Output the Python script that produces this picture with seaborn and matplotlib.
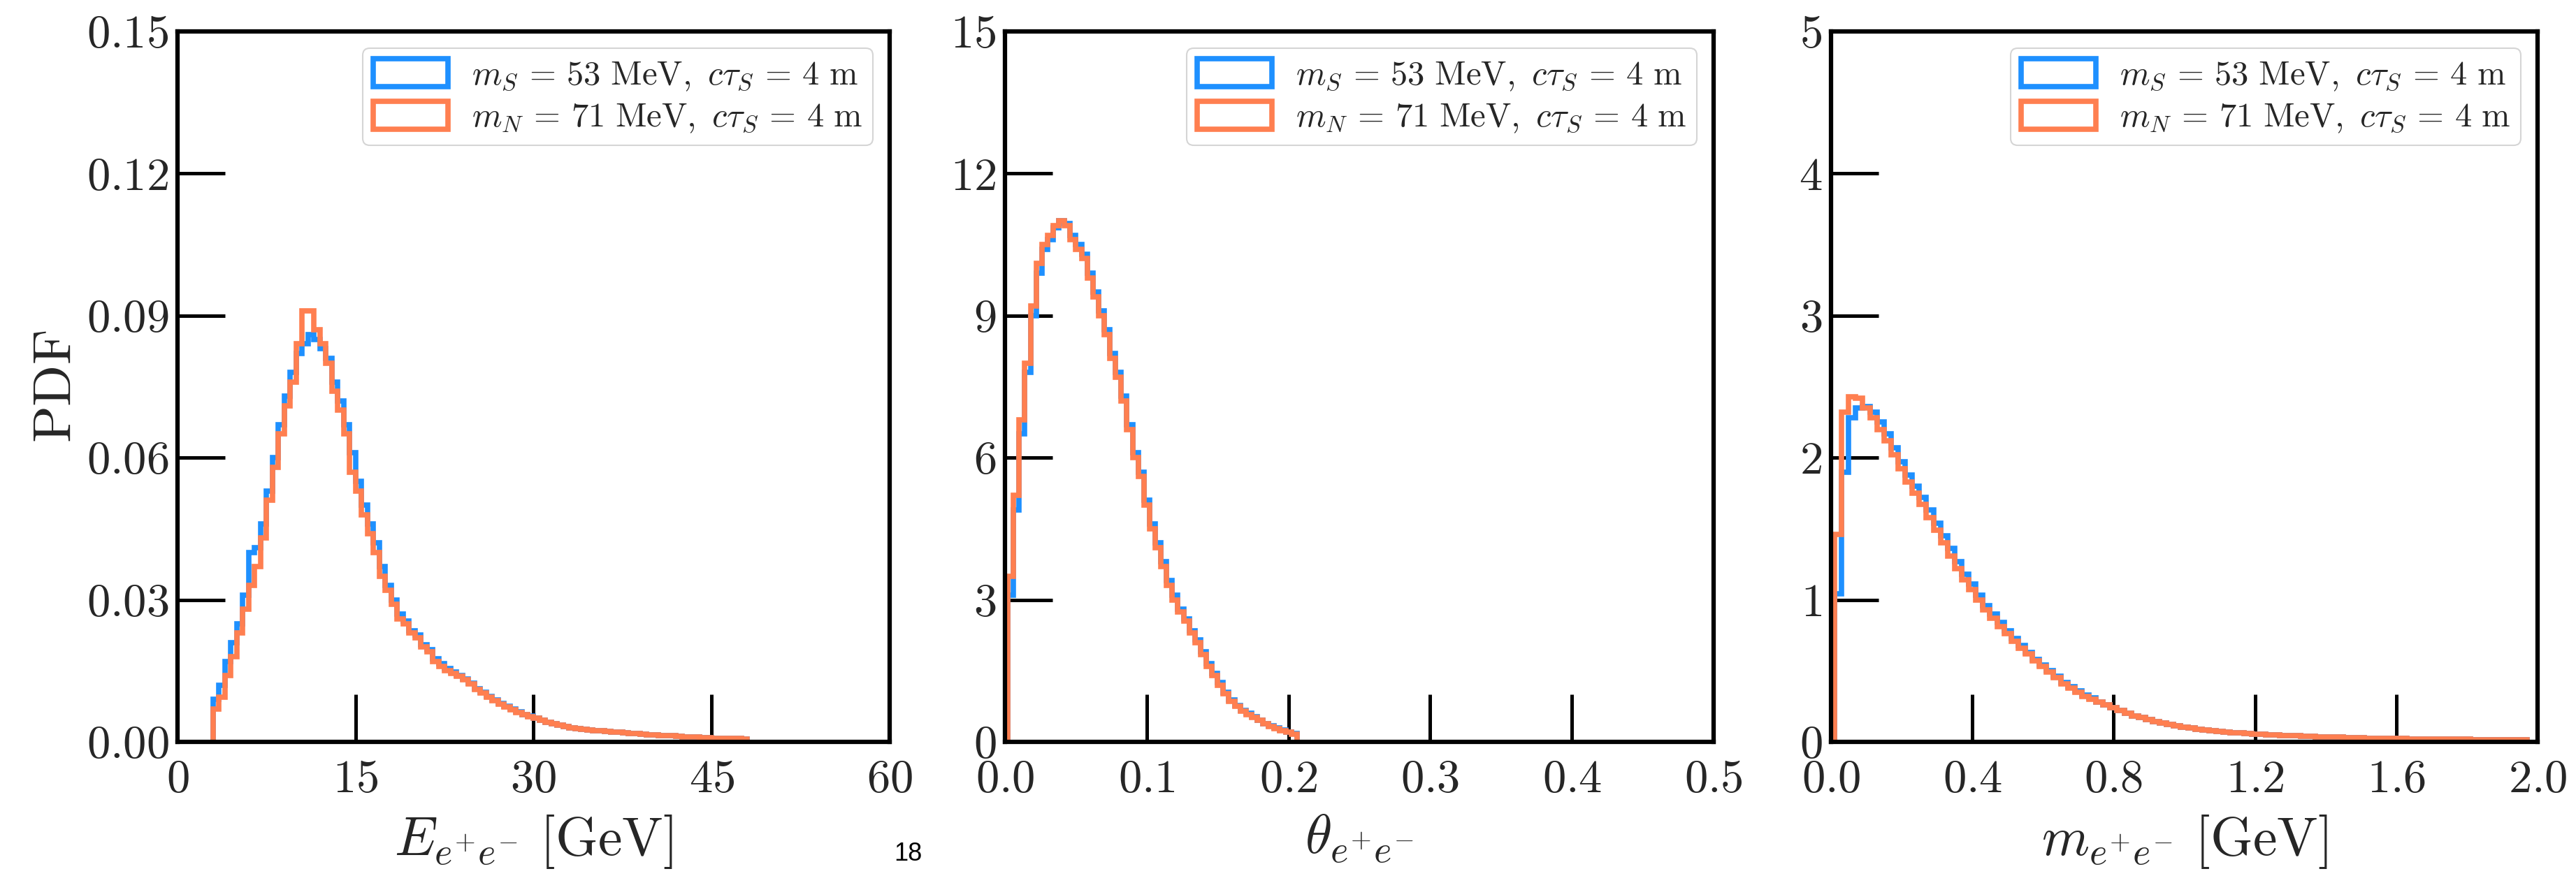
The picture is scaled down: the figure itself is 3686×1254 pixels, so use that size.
import numpy as np
import pandas as pd
import matplotlib
matplotlib.use("Agg")
import matplotlib.pyplot as plt
import seaborn as sns
from matplotlib.patches import Patch

# ---------------- data ----------------
# Panel 1: E_{e+e-} [GeV], bins of 0.5 GeV starting at 3.0 GeV
E_first_edge = 3.0
E_bin_width = 0.5
E_scalar = [  # m_S = 53 MeV (blue)
    0.009, 0.012, 0.017, 0.021, 0.025, 0.031, 0.040, 0.041, 0.046, 0.053,
    0.060, 0.067, 0.073, 0.078, 0.082, 0.084, 0.086, 0.085, 0.083, 0.081,
    0.076, 0.072, 0.067, 0.061, 0.055, 0.050, 0.046, 0.042, 0.037, 0.033,
    0.030, 0.027, 0.0255, 0.0235, 0.0225, 0.0205, 0.0195, 0.0175, 0.0165, 0.0155,
    0.0148, 0.0140, 0.0133, 0.0124, 0.0112, 0.0104, 0.0096, 0.0088, 0.0081, 0.0075,
    0.0069, 0.0063, 0.0058, 0.0054, 0.0050, 0.0046, 0.0042, 0.0039, 0.0035, 0.0032,
    0.0030, 0.0028, 0.0027, 0.0025, 0.0024, 0.0023, 0.0022, 0.0021, 0.0020, 0.0019,
    0.0018, 0.0017, 0.0016, 0.0015, 0.0015, 0.0014, 0.0013, 0.0013, 0.0012, 0.0011,
    0.0011, 0.0010, 0.0009, 0.0009, 0.0008, 0.0008, 0.0007, 0.0007, 0.0007, 0.0006,
]
E_hnl = [  # m_N = 71 MeV (orange)
    0.007, 0.0095, 0.014, 0.018, 0.023, 0.028, 0.033, 0.037, 0.043, 0.051,
    0.058, 0.065, 0.071, 0.076, 0.084, 0.091, 0.091, 0.087, 0.084, 0.080,
    0.074, 0.070, 0.065, 0.057, 0.053, 0.048, 0.044, 0.040, 0.035, 0.032,
    0.029, 0.026, 0.025, 0.023, 0.022, 0.020, 0.019, 0.017, 0.016, 0.015,
    0.0145, 0.0138, 0.0131, 0.0122, 0.0110, 0.0103, 0.0095, 0.0087, 0.0080, 0.0074,
    0.0068, 0.0062, 0.0057, 0.0053, 0.0050, 0.0046, 0.0042, 0.0039, 0.0035, 0.0032,
    0.0030, 0.0028, 0.0027, 0.0025, 0.0024, 0.0023, 0.0022, 0.0021, 0.0020, 0.0019,
    0.0018, 0.0017, 0.0016, 0.0015, 0.0015, 0.0014, 0.0013, 0.0013, 0.0012, 0.0011,
    0.0011, 0.0010, 0.0009, 0.0009, 0.0008, 0.0008, 0.0007, 0.0007, 0.0007, 0.0006,
]

# Panel 2: theta_{e+e-}, bins of 0.004 starting at 0.002
T_first_edge = 0.002
T_bin_width = 0.004
T_scalar = [
    3.1, 4.9, 6.5, 7.8, 9.0, 9.9, 10.4, 10.6, 10.85, 11.0,
    10.95, 10.7, 10.5, 10.3, 9.9, 9.5, 9.1, 8.7, 8.2, 7.8,
    7.3, 6.7, 6.1, 5.7, 5.1, 4.6, 4.2, 3.8, 3.4, 3.1,
    2.8, 2.6, 2.35, 2.15, 1.9, 1.65, 1.45, 1.25, 1.05, 0.88,
    0.77, 0.67, 0.60, 0.53, 0.46, 0.39, 0.34, 0.29, 0.25, 0.21, 0.17,
]
T_hnl = [
    3.5, 5.2, 6.8, 8.0, 9.2, 10.1, 10.5, 10.7, 10.9, 11.0,
    10.9, 10.6, 10.4, 10.2, 9.8, 9.4, 9.0, 8.6, 8.1, 7.7,
    7.2, 6.6, 6.0, 5.6, 5.0, 4.5, 4.1, 3.7, 3.3, 3.0,
    2.75, 2.55, 2.3, 2.1, 1.85, 1.6, 1.4, 1.2, 1.02, 0.85,
    0.75, 0.65, 0.58, 0.52, 0.45, 0.38, 0.33, 0.28, 0.24, 0.20, 0.16,
]

# Panel 3: m_{e+e-} [GeV], bins of 0.02 GeV starting at 0.01
M_first_edge = 0.01
M_bin_width = 0.02
M_scalar = [
    1.04, 1.90, 2.28, 2.35, 2.36, 2.32, 2.25, 2.17, 2.07, 1.97,
    1.88, 1.80, 1.72, 1.63, 1.54, 1.45, 1.36, 1.27, 1.18, 1.11,
    1.03, 0.96, 0.90, 0.84, 0.78, 0.73, 0.68, 0.63, 0.58, 0.54,
    0.50, 0.46, 0.42, 0.39, 0.36, 0.33, 0.31, 0.28, 0.26, 0.24,
    0.22, 0.20, 0.18, 0.17, 0.155, 0.145, 0.135, 0.125, 0.115, 0.105,
    0.097, 0.090, 0.084, 0.078, 0.073, 0.069, 0.065, 0.062, 0.059, 0.056,
    0.053, 0.050, 0.048, 0.046, 0.044, 0.042, 0.040, 0.038, 0.036, 0.034,
    0.033, 0.032, 0.030, 0.029, 0.028, 0.027, 0.026, 0.025, 0.025, 0.024,
    0.023, 0.022, 0.022, 0.021, 0.020, 0.020, 0.019, 0.019, 0.018, 0.018,
    0.017, 0.017, 0.016, 0.016, 0.015, 0.015, 0.014, 0.014,
]
M_hnl = [
    1.46, 2.32, 2.43, 2.42, 2.35, 2.28, 2.20, 2.12, 2.02, 1.92,
    1.83, 1.75, 1.67, 1.58, 1.49, 1.40, 1.31, 1.22, 1.14, 1.07,
    1.00, 0.93, 0.87, 0.81, 0.76, 0.71, 0.66, 0.62, 0.57, 0.53,
    0.49, 0.45, 0.41, 0.38, 0.35, 0.32, 0.30, 0.28, 0.26, 0.24,
    0.22, 0.20, 0.18, 0.17, 0.155, 0.145, 0.135, 0.125, 0.115, 0.105,
    0.097, 0.090, 0.084, 0.078, 0.073, 0.069, 0.065, 0.062, 0.059, 0.056,
    0.053, 0.050, 0.048, 0.046, 0.044, 0.042, 0.040, 0.038, 0.036, 0.034,
    0.033, 0.032, 0.030, 0.029, 0.028, 0.027, 0.026, 0.025, 0.025, 0.024,
    0.023, 0.022, 0.022, 0.021, 0.020, 0.020, 0.019, 0.019, 0.018, 0.018,
    0.017, 0.017, 0.016, 0.016, 0.015, 0.015, 0.014, 0.014,
]

legend_labels = [r"$m_S\,=\,53\ \mathrm{MeV},\ c\tau_S\,=\,4\ \mathrm{m}$",
                 r"$m_N\,=\,71\ \mathrm{MeV},\ c\tau_S\,=\,4\ \mathrm{m}$"]

E_xticks = [0, 15, 30, 45, 60]
E_yticks = [0.00, 0.03, 0.06, 0.09, 0.12, 0.15]
T_xticks = [0.0, 0.1, 0.2, 0.3, 0.4, 0.5]
T_yticks = [0, 3, 6, 9, 12, 15]
M_xticks = [0.0, 0.4, 0.8, 1.2, 1.6, 2.0]
M_yticks = [0, 1, 2, 3, 4, 5]

# ---------------- style ----------------
sns.set_style("white")
plt.rcParams["mathtext.fontset"] = "cm"
plt.rcParams["font.family"] = ["serif"]
plt.rcParams["font.serif"] = ["cmr10", "DejaVu Serif"]
plt.rcParams["axes.unicode_minus"] = False
plt.rcParams["axes.formatter.use_mathtext"] = True

BLUE = "#1E90FF"
ORANGE = "#FF7F50"
LW = 5.5

W, H, DPI = 3687, 1254, 100
fig = plt.figure(figsize=(W / DPI, H / DPI), dpi=DPI)
fig.patch.set_facecolor("white")


def step_hist(ax, first_edge, width, vals, color):
    vals = np.asarray(vals, float)
    edges = first_edge + width * np.arange(len(vals) + 1)
    eps = width * 1e-3
    e2 = np.concatenate([[edges[0] - eps], edges, [edges[-1] + eps]])
    v2 = np.concatenate([[0.0], vals, [0.0]])
    df = pd.DataFrame({"x": 0.5 * (e2[:-1] + e2[1:]), "w": v2})
    sns.histplot(data=df, x="x", weights="w", bins=list(e2), element="step",
                 fill=False, stat="count", color=color, linewidth=LW, ax=ax,
                 solid_joinstyle="miter")


def style_axes(ax, xlim, ylim, xticks, yticks, xfmt, yfmt, xlabel):
    ax.set_xlim(*xlim)
    ax.set_ylim(*ylim)
    ax.set_xticks(xticks)
    ax.set_yticks(yticks)
    ax.set_xticklabels([r"$" + xfmt.format(v) + r"$" for v in xticks])
    ax.set_yticklabels([r"$" + yfmt.format(v) + r"$" for v in yticks])
    ax.tick_params(axis="both", which="major", direction="in", length=49,
                   width=3.6, bottom=True, left=True, top=False, right=False,
                   labelsize=48, color="black")
    ax.tick_params(axis="x", pad=18)
    ax.tick_params(axis="y", pad=9)
    for sp in ax.spines.values():
        sp.set_visible(True)
        sp.set_linewidth(4.5)
        sp.set_color("black")
    ax.set_facecolor("white")
    ax.set_ylabel("")
    ax.set_xlabel(xlabel, fontsize=56)
    ax.xaxis.set_label_coords(0.5, -0.10)
    handles = [Patch(facecolor="white", edgecolor=BLUE, linewidth=5.5),
               Patch(facecolor="white", edgecolor=ORANGE, linewidth=5.5)]
    leg = ax.legend(handles, legend_labels, loc="upper right", fontsize=35,
                    handlelength=2.2, handleheight=0.9, handletextpad=0.7,
                    borderpad=0.3, labelspacing=0.25, borderaxespad=0.5,
                    frameon=True, fancybox=True, framealpha=1.0)
    leg.get_frame().set_edgecolor("#d5d5d5")
    leg.get_frame().set_linewidth(1.5)


bottom = 1 - 1062 / H
height = (1062 - 45) / H
ax1 = fig.add_axes([254 / W, bottom, 1019 / W, height])
ax2 = fig.add_axes([1438 / W, bottom, 1014 / W, height])
ax3 = fig.add_axes([2620 / W, bottom, 1011 / W, height])

step_hist(ax1, E_first_edge, E_bin_width, E_scalar, BLUE)
step_hist(ax1, E_first_edge, E_bin_width, E_hnl, ORANGE)
style_axes(ax1, (0, 60), (0, 0.15), E_xticks, E_yticks, "{:g}", "{:.2f}",
           r"$E_{e^{+}e^{-}}\ [\mathrm{GeV}]$")
ax1.set_ylabel(r"$\mathrm{PDF}$", fontsize=56)
ax1.yaxis.set_label_coords(-0.135, 0.5)

step_hist(ax2, T_first_edge, T_bin_width, T_scalar, BLUE)
step_hist(ax2, T_first_edge, T_bin_width, T_hnl, ORANGE)
style_axes(ax2, (0, 0.5), (0, 15), T_xticks, T_yticks, "{:.1f}", "{:g}",
           r"$\theta_{e^{+}e^{-}}$")

step_hist(ax3, M_first_edge, M_bin_width, M_scalar, BLUE)
step_hist(ax3, M_first_edge, M_bin_width, M_hnl, ORANGE)
style_axes(ax3, (0, 2.0), (0, 5), M_xticks, M_yticks, "{:.1f}", "{:g}",
           r"$m_{e^{+}e^{-}}\ [\mathrm{GeV}]$")

fig.text(1299 / W, 1 - 1222 / H, "18", fontsize=26, family="Liberation Sans",
         ha="center", va="center", color="black")

fig.savefig("out.png", dpi=DPI, facecolor="white")
